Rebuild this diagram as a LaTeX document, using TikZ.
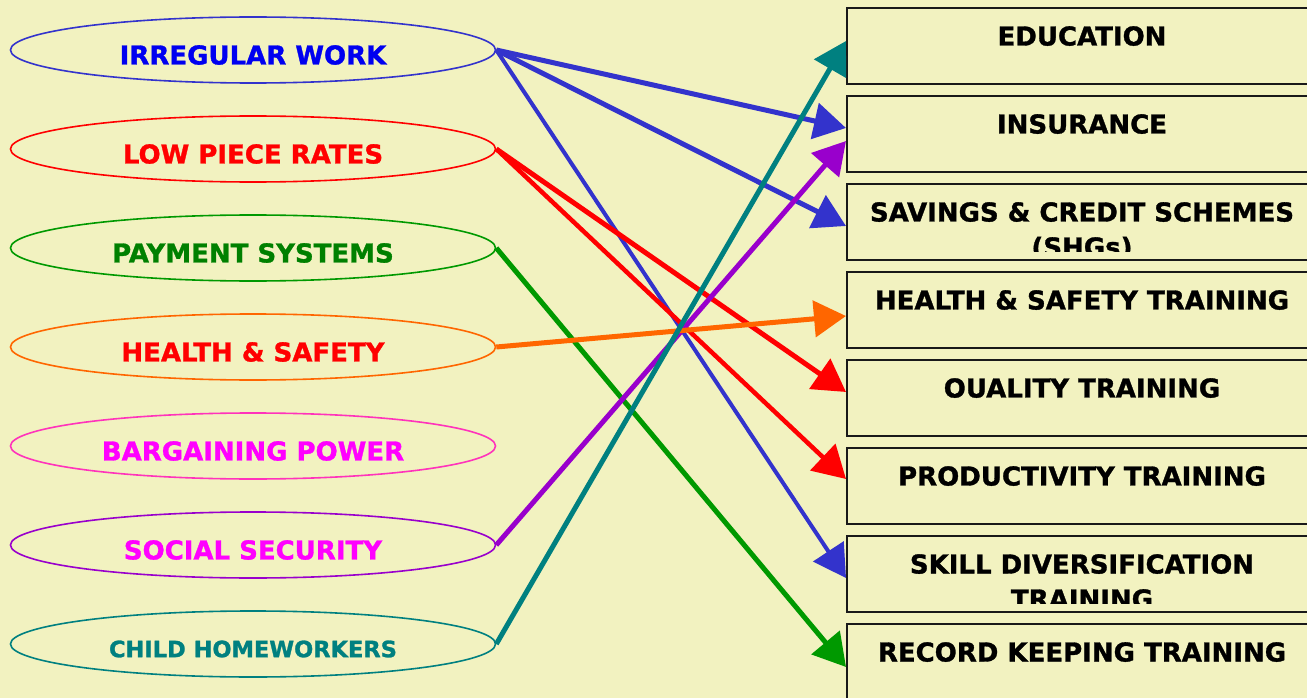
\documentclass[tikz,border=0pt]{standalone}
\usepackage{fontspec}
\setmainfont{DejaVu Sans}[BoldFont={DejaVu Sans Bold},BoldFeatures={FakeBold=1.2}]
\usetikzlibrary{shapes.geometric,arrows.meta,calc}

\definecolor{paper}{HTML}{F2F2C0}
\definecolor{cblue}{HTML}{3333CC}
\definecolor{tblue}{HTML}{0000F0}
\definecolor{cred}{HTML}{FF0000}
\definecolor{cgreen}{HTML}{009900}
\definecolor{tgreen}{HTML}{008000}
\definecolor{corange}{HTML}{FF6600}
\definecolor{cpink}{HTML}{FF33BB}
\definecolor{tmagenta}{HTML}{FF00FF}
\definecolor{cpurple}{HTML}{9900CC}
\definecolor{cteal}{HTML}{008080}

\tikzset{
  issue/.style={ellipse, draw=#1, line width=1.6pt, minimum width=485pt,
    minimum height=66pt, inner sep=0pt},
  issuetext/.style={text=#1, font=\bfseries\fontsize{26}{30}\selectfont,
    inner sep=0pt, yshift=-5pt},
  remedy/.style={rectangle, draw=black!90, line width=2pt, minimum width=470pt,
    minimum height=76pt, inner sep=0pt, anchor=north west},
  remedytext/.style={font=\bfseries\fontsize{26}{35}\selectfont, align=center,
    anchor=north, inner sep=0pt, yshift=-19pt},
  link/.style={draw=#1, line width=5pt,
    -{Triangle[length=32pt,width=36pt]}},
}

\begin{document}
\begin{tikzpicture}[x=1pt,y=-1pt]
  \clip (0,0) rectangle (1307,698);
  \fill[paper] (0,0) rectangle (1307,698);

  % problems (left column)
  \node[issue=cblue]   (irr)  at (253,50)  {};
  \node[issue=cred]    (low)  at (253,149) {};
  \node[issue=cgreen]  (pay)  at (253,248) {};
  \node[issue=corange] (hsi)  at (253,347) {};
  \node[issue=cpink]   (bar)  at (253,446) {};
  \node[issue=cpurple] (soc)  at (253,545) {};
  \node[issue=cteal]   (chi)  at (253,644) {};

  \node[issuetext=tblue]    (irrt) at (irr) {IRREGULAR WORK};
  \node[issuetext=cred]     (lowt) at (low) {LOW PIECE RATES};
  \node[issuetext=tgreen]   (payt) at (pay) {PAYMENT SYSTEMS};
  \node[issuetext=cred]     (hsit) at (hsi) {HEALTH \& SAFETY};
  \node[issuetext=tmagenta] (bart) at (bar) {BARGAINING POWER};
  \node[issuetext=tmagenta] (soct) at (soc) {SOCIAL SECURITY};
  \node[issuetext=cteal, font=\bfseries\fontsize{22.5}{26}\selectfont] (chit) at (chi) {CHILD HOMEWORKERS};

  % responses (right column)
  \node[remedy] (edu)  at (846,7)   {};
  \node[remedy] (ins)  at (846,95)  {};
  \node[remedy] (sav)  at (846,183) {};
  \node[remedy] (hst)  at (846,271) {};
  \node[remedy] (qua)  at (846,359) {};
  \node[remedy] (pro)  at (846,447) {};
  \node[remedy] (ski)  at (846,535) {};
  \node[remedy] (rec)  at (846,623) {};

  \node[remedytext] (edut) at (edu.north) {EDUCATION};
  \node[remedytext] (inst) at (ins.north) {INSURANCE};
  \begin{scope}
    \clip ($(sav.north west)+(1,1)$) rectangle ($(sav.south east)+(-1,-10)$);
    \node[remedytext] (savt) at (sav.north) {SAVINGS \& CREDIT SCHEMES\\(SHGs)};
  \end{scope}
  \node[remedytext] (hstt) at (hst.north) {HEALTH \& SAFETY TRAINING};
  \node[remedytext] (quat) at (qua.north) {OUALITY TRAINING};
  \node[remedytext] (prot) at (pro.north) {PRODUCTIVITY TRAINING};
  \begin{scope}
    \clip ($(ski.north west)+(1,1)$) rectangle ($(ski.south east)+(-1,-10)$);
    \node[remedytext] (skit) at (ski.north) {SKILL DIVERSIFICATION\\TRAINING};
  \end{scope}
  \node[remedytext] (rect) at (rec.north) {RECORD KEEPING TRAINING};

  % links
  \draw[link=cblue]   (irr.east) -- ($(ins.west)+(0,-6)$);
  \draw[link=cblue]   (irr.east) -- ($(sav.west)+(0,4)$);
  \draw[link=cblue, line width=4pt] (irr.east) -- ($(ski.west)+(0,4)$);
  \draw[link=cred]    (low.east) -- ($(qua.west)+(0,-6)$);
  \draw[link=cred, line width=4.5pt]  (low.east) -- ($(pro.west)+(0,-7)$);
  \draw[link=cgreen]  (pay.east) -- ($(rec.west)+(0,5)$);
  \draw[link=cpurple] (soc.east) -- ($(ins.west)+(0,7)$);
  \draw[link=corange] (hsi.east) -- ($(hst.west)+(0,6)$);
  \draw[link=cteal]   (chi.east) -- ($(edu.west)+(0,-5)$);
\end{tikzpicture}
\end{document}
